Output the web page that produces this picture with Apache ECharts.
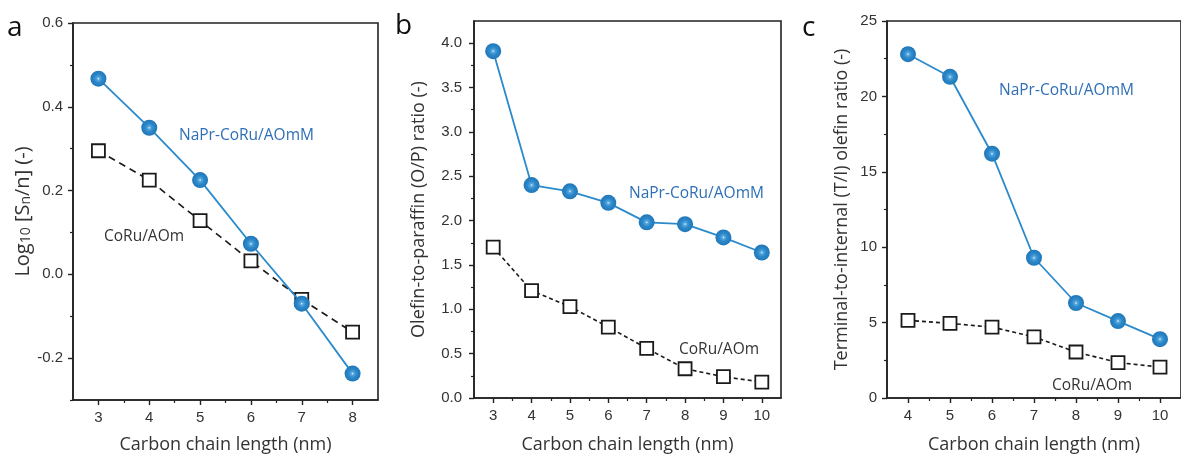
<!DOCTYPE html>
<html><head><meta charset="utf-8">
<script src="https://cdn.jsdelivr.net/npm/echarts@6/dist/echarts.min.js"></script>
<style>html,body{margin:0;padding:0;background:#fff}#c{width:1181px;height:459px}</style>
</head><body><div id="c"></div>
<script>
// ---- data ----
var xA = [3, 4, 5, 6, 7, 8];
var aNaPr = [0.467, 0.350, 0.225, 0.073, -0.070, -0.237];
var aCoRu = [0.295, 0.225, 0.128, 0.032, -0.060, -0.138];

var xB = [3, 4, 5, 6, 7, 8, 9, 10];
var bNaPr = [3.91, 2.40, 2.33, 2.20, 1.98, 1.96, 1.81, 1.64];
var bCoRu = [1.70, 1.21, 1.03, 0.80, 0.56, 0.33, 0.24, 0.18];

var xC = [4, 5, 6, 7, 8, 9, 10];
var cNaPr = [22.8, 21.3, 16.2, 9.3, 6.3, 5.1, 3.9];
var cCoRu = [5.15, 4.95, 4.70, 4.05, 3.05, 2.35, 2.05];

var xTicksA = [3, 4, 5, 6, 7, 8];
var xMinorA = [3.5, 4.5, 5.5, 6.5, 7.5];
var yTicksA = [-0.2, 0.0, 0.2, 0.4, 0.6];
var yMinorA = [-0.3, -0.1, 0.1, 0.3, 0.5];

var xTicksB = [3, 4, 5, 6, 7, 8, 9, 10];
var xMinorB = [3.5, 4.5, 5.5, 6.5, 7.5, 8.5, 9.5];
var yTicksB = [0.0, 0.5, 1.0, 1.5, 2.0, 2.5, 3.0, 3.5, 4.0];
var yMinorB = [0.25, 0.75, 1.25, 1.75, 2.25, 2.75, 3.25, 3.75];

var xTicksC = [4, 5, 6, 7, 8, 9, 10];
var xMinorC = [4.5, 5.5, 6.5, 7.5, 8.5, 9.5];
var yTicksC = [0, 5, 10, 15, 20, 25];
var yMinorC = [2.5, 7.5, 12.5, 17.5, 22.5];

var xTitle = 'Carbon chain length (nm)';
var nameBlue = 'NaPr-CoRu/AOmM';
var nameBlack = 'CoRu/AOm';

// ---- styles ----
var AX = '#222';
var TXT = '#333';
var LBLFONT = 'Liberation Sans, Arial, sans-serif';
var TITLEFONT = 'Open Sans, Noto Sans, sans-serif';
var BLUE = '#2a8acb';
var sphere = {type:'radial', x:0.5, y:0.5, r:0.5, colorStops:[
  {offset:0, color:'#eaf5fd'},{offset:0.16, color:'#5aaadf'},{offset:0.5, color:'#2d89ca'},{offset:1, color:'#1f76b7'}]};

function pairs(xs, ys){ return xs.map(function(x,i){ return [x, ys[i]]; }); }

var grids = [
  {left:73, right:803, top:23, bottom:58},
  {left:474, right:400, top:21, bottom:54},
  {left:887, right:-9, top:21, bottom:60}
];
grids.forEach(function(g){ g.show = true; g.borderColor = AX; g.borderWidth = 1.6; g.backgroundColor = 'transparent'; });

var ranges = [
  {x:[2.5, 8.5], y:[-0.3, 0.6], xt:xTicksA, xm:xMinorA, yt:yTicksA, ym:yMinorA, yfmt:function(v){return v.toFixed(1);}},
  {x:[2.5, 10.5], y:[0, 4.25], xt:xTicksB, xm:xMinorB, yt:yTicksB, ym:yMinorB, yfmt:function(v){return v.toFixed(1);}},
  {x:[3.5, 10.5], y:[0, 25], xt:xTicksC, xm:xMinorC, yt:yTicksC, ym:yMinorC, yfmt:function(v){return String(v);}}
];

var yNames = [
  '{n|Log}{s|10}{n| [S}{s|n}{n|/n] (-)}',
  '{n|Olefin-to-paraffin (O/P) ratio (-)}',
  '{n|Terminal-to-internal (T/I) olefin ratio (-)}'
];
var yNameSizes = [[20, 14], [18, 13], [18, 13]];
var yGaps = [40, 46, 36];
var yLblMargins = [10, 12, 10];
var xNameGaps = [36, 38, 38];

var xAxes = [], yAxes = [];
ranges.forEach(function(r, i){
  xAxes.push({
    type:'value', gridIndex:i, min:r.x[0], max:r.x[1], position:'bottom',
    axisLine:{show:true, onZero:false, lineStyle:{color:AX, width:1.6}},
    axisTick:{show:true, inside:false, length:5, customValues:r.xt, lineStyle:{color:AX, width:1.4}},
    axisLabel:{show:true, customValues:r.xt, margin:10, color:TXT, fontSize:15, fontFamily:LBLFONT},
    splitLine:{show:false},
    name:xTitle, nameLocation:'middle', nameGap:xNameGaps[i],
    nameTextStyle:{color:TXT, fontSize:18, fontFamily:TITLEFONT}
  });
  xAxes.push({
    type:'value', gridIndex:i, min:r.x[0], max:r.x[1], position:'bottom',
    axisLine:{show:false, onZero:false},
    axisTick:{show:true, inside:false, length:3, customValues:r.xm, lineStyle:{color:AX, width:1.2}},
    axisLabel:{show:false}, splitLine:{show:false}
  });
  yAxes.push({
    type:'value', gridIndex:i, min:r.y[0], max:r.y[1], position:'left',
    axisLine:{show:true, onZero:false, lineStyle:{color:AX, width:1.6}},
    axisTick:{show:true, inside:false, length:5, customValues:r.yt, lineStyle:{color:AX, width:1.4}},
    axisLabel:{show:true, customValues:r.yt, margin:yLblMargins[i], color:TXT, fontSize:15, fontFamily:LBLFONT, formatter:r.yfmt},
    splitLine:{show:false},
    name:yNames[i], nameLocation:'middle', nameGap:yGaps[i], nameRotate:90,
    nameTextStyle:{color:TXT, rich:{
      n:{fontSize:yNameSizes[i][0], fontFamily:TITLEFONT, color:TXT, lineHeight:yNameSizes[i][0] + 6, verticalAlign:'bottom'},
      s:{fontSize:yNameSizes[i][1], fontFamily:TITLEFONT, color:TXT, lineHeight:yNameSizes[i][1] + 2, verticalAlign:'bottom'}
    }}
  });
  yAxes.push({
    type:'value', gridIndex:i, min:r.y[0], max:r.y[1], position:'left',
    axisLine:{show:false, onZero:false},
    axisTick:{show:true, inside:false, length:3, customValues:r.ym, lineStyle:{color:AX, width:1.2}},
    axisLabel:{show:false}, splitLine:{show:false}
  });
});

function blackSeries(i, xs, ys, dash){
  return {type:'line', xAxisIndex:2*i, yAxisIndex:2*i, data:pairs(xs, ys),
    symbol:'rect', symbolSize:13, showSymbol:true, z:2,
    lineStyle:{color:'#1a1a1a', width:1.6, type:dash},
    itemStyle:{color:'#ffffff', borderColor:'#1a1a1a', borderWidth:1.8}};
}
function blueSeries(i, xs, ys){
  return {type:'line', xAxisIndex:2*i, yAxisIndex:2*i, data:pairs(xs, ys),
    symbol:'circle', symbolSize:16, showSymbol:true, z:3,
    lineStyle:{color:BLUE, width:1.8},
    itemStyle:{color:sphere, borderWidth:0}};
}

var series = [
  blackSeries(0, xA, aCoRu, [7,5]), blueSeries(0, xA, aNaPr),
  blackSeries(1, xB, bCoRu, [4,3]), blueSeries(1, xB, bNaPr),
  blackSeries(2, xC, cCoRu, [4,3]), blueSeries(2, xC, cNaPr)
];

function txt(t, x, y, color, size, font, align){
  return {type:'text', x:x, y:y, z:10, style:{text:t, fill:color, fontSize:size, fontFamily:font,
    textAlign:align || 'left', textVerticalAlign:'middle'}};
}
var ANN = '#2e6fb6';
var graphics = [
  txt('a', 7, 28, '#111', 28, TITLEFONT),
  txt('b', 395, 26, '#111', 28, TITLEFONT),
  txt('c', 802, 28, '#111', 28, TITLEFONT),
  txt(nameBlue, 179, 136, ANN, 15.5, TITLEFONT),
  txt(nameBlack, 104, 237, TXT, 15.5, TITLEFONT),
  txt(nameBlue, 629, 194, ANN, 15.5, TITLEFONT),
  txt(nameBlack, 679, 350, TXT, 15.5, TITLEFONT),
  txt(nameBlue, 999, 91, ANN, 15.5, TITLEFONT),
  txt(nameBlack, 1052, 386, TXT, 15.5, TITLEFONT)
];

var chart = echarts.init(document.getElementById('c'), null, {renderer:'canvas'});
chart.setOption({
  animation:false,
  backgroundColor:'#ffffff',
  grid:grids, xAxis:xAxes, yAxis:yAxes, series:series, graphic:graphics
});
</script></body></html>
